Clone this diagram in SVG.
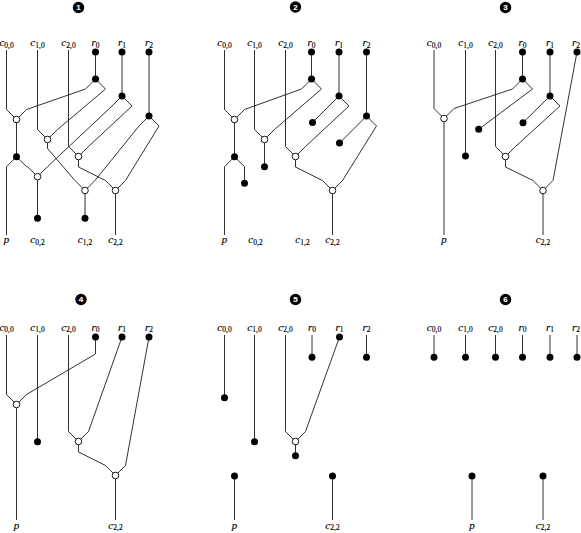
<svg xmlns="http://www.w3.org/2000/svg" width="581" height="533" viewBox="0 0 581 533">
<style>
.ln{fill:none;stroke:#1a1a1a;stroke-width:0.9;stroke-linejoin:miter}
.dot{fill:#000}
.wn{fill:#fff;stroke:#000;stroke-width:0.9}
.lbl{font-family:"Liberation Serif","DejaVu Serif",serif;font-size:11px;font-style:italic;fill:#000;stroke:#000;stroke-width:0.15}
.sub{font-size:7.5px;font-style:normal}
.badge{fill:#000}
.bnum{font-family:"Liberation Sans","DejaVu Sans",sans-serif;font-size:8px;font-weight:bold;fill:#fff;stroke:#fff;stroke-width:0.1}
</style>
<rect width="581" height="533" fill="#fff"/>

<!-- ================= PANEL 1 ================= -->
<g id="panel1">
<g id="p1-badge"><circle class="badge" cx="78.5" cy="7.5" r="5.7"/><text class="bnum" x="78.5" y="10.3" text-anchor="middle">1</text></g>
<g id="p1-connectors">
<polyline class="ln" points="6.5,50 6.5,109.5 16.5,119.5"/>
<polyline class="ln" points="95.5,52 95.5,79"/>
<polyline class="ln" points="95.5,79 85.5,89 26.5,109.5 16.5,119.5"/>
<polyline class="ln" points="95.5,79 105.5,89 57.5,129.5 47.5,139.5"/>
<polyline class="ln" points="37.5,50 37.5,129.5 47.5,139.5"/>
<polyline class="ln" points="122,52 122,96"/>
<polyline class="ln" points="122,96 112,106 47.5,166.7 37.5,176.7"/>
<polyline class="ln" points="122,96 132,106 88.5,146.5 78.5,156.5"/>
<polyline class="ln" points="68.5,50 68.5,146.5 78.5,156.5"/>
<polyline class="ln" points="149,52 149,116"/>
<polyline class="ln" points="149,116 139,126 95,180.5 85,190.5"/>
<polyline class="ln" points="149,116 159,126 125.5,180.5 115.5,190.5"/>
<polyline class="ln" points="16.5,119.5 16.5,156.7"/>
<polyline class="ln" points="16.5,156.7 6.5,166.7 6.5,235"/>
<polyline class="ln" points="16.5,156.7 26.5,166.7 27.5,166.7 37.5,176.7"/>
<polyline class="ln" points="37.5,176.7 37.5,218.3"/>
<polyline class="ln" points="47.5,139.5 47.5,148.5 75,180.5 85,190.5"/>
<polyline class="ln" points="78.5,156.5 78.5,167 105.5,180.5 115.5,190.5"/>
<polyline class="ln" points="85,190.5 85,218.3"/>
<polyline class="ln" points="115.5,190.5 115.5,235"/>
</g>
<g id="p1-c00"><text class="lbl" x="6.5" y="45.7" text-anchor="middle">c<tspan class="sub" dy="1.8">0,0</tspan></text></g>
<g id="p1-c10"><text class="lbl" x="37.5" y="45.7" text-anchor="middle">c<tspan class="sub" dy="1.8">1,0</tspan></text></g>
<g id="p1-c20"><text class="lbl" x="68.5" y="45.7" text-anchor="middle">c<tspan class="sub" dy="1.8">2,0</tspan></text></g>
<g id="p1-r0"><text class="lbl" x="95.5" y="45.7" text-anchor="middle">r<tspan class="sub" dy="1.8">0</tspan></text><circle class="dot" cx="95.5" cy="52" r="3.5"/></g>
<g id="p1-r1"><text class="lbl" x="122" y="45.7" text-anchor="middle">r<tspan class="sub" dy="1.8">1</tspan></text><circle class="dot" cx="122" cy="52" r="3.5"/></g>
<g id="p1-r2"><text class="lbl" x="149" y="45.7" text-anchor="middle">r<tspan class="sub" dy="1.8">2</tspan></text><circle class="dot" cx="149" cy="52" r="3.5"/></g>
<g id="p1-s0"><circle class="dot" cx="95.5" cy="79" r="3.5"/></g>
<g id="p1-s1"><circle class="dot" cx="122" cy="96" r="3.5"/></g>
<g id="p1-s2"><circle class="dot" cx="149" cy="116" r="3.5"/></g>
<g id="p1-w1"><circle class="wn" cx="16.5" cy="119.5" r="3.3"/></g>
<g id="p1-w2"><circle class="wn" cx="47.5" cy="139.5" r="3.3"/></g>
<g id="p1-w3"><circle class="wn" cx="78.5" cy="156.5" r="3.3"/></g>
<g id="p1-b1"><circle class="dot" cx="16.5" cy="156.7" r="3.5"/></g>
<g id="p1-w4"><circle class="wn" cx="37.5" cy="176.7" r="3.3"/></g>
<g id="p1-w5"><circle class="wn" cx="85" cy="190.5" r="3.3"/></g>
<g id="p1-w6"><circle class="wn" cx="115.5" cy="190.5" r="3.3"/></g>
<g id="p1-t1"><circle class="dot" cx="37.5" cy="218.3" r="3.5"/></g>
<g id="p1-t2"><circle class="dot" cx="85" cy="218.3" r="3.5"/></g>
<g id="p1-p"><text class="lbl" x="6.5" y="243" text-anchor="middle">p</text></g>
<g id="p1-c02"><text class="lbl" x="37.5" y="243" text-anchor="middle">c<tspan class="sub" dy="1.8">0,2</tspan></text></g>
<g id="p1-c12"><text class="lbl" x="85" y="243" text-anchor="middle">c<tspan class="sub" dy="1.8">1,2</tspan></text></g>
<g id="p1-c22"><text class="lbl" x="115.5" y="243" text-anchor="middle">c<tspan class="sub" dy="1.8">2,2</tspan></text></g>
</g>

<!-- ================= PANEL 2 ================= -->
<g id="panel2">
<g id="p2-badge"><circle class="badge" cx="295.5" cy="7" r="5.7"/><text class="bnum" x="295.5" y="9.8" text-anchor="middle">2</text></g>
<g id="p2-connectors">
<polyline class="ln" points="224.5,50 224.5,109.5 234.5,119.5"/>
<polyline class="ln" points="311.5,52 311.5,79"/>
<polyline class="ln" points="311.5,79 301.5,89 244.5,109.5 234.5,119.5"/>
<polyline class="ln" points="311.5,79 321.5,89 274.5,129.5 264.5,139.5"/>
<polyline class="ln" points="254.5,50 254.5,129.5 264.5,139.5"/>
<polyline class="ln" points="264.5,139.5 264.5,166.7"/>
<polyline class="ln" points="234.5,119.5 234.5,156.7"/>
<polyline class="ln" points="234.5,156.7 224.5,166.7 224.5,235"/>
<polyline class="ln" points="234.5,156.7 244.5,166.7 244.5,183.3"/>
<polyline class="ln" points="339,52 339,96"/>
<polyline class="ln" points="339,96 312.5,122.5"/>
<polyline class="ln" points="339,96 349,106 305.5,146.5 295.5,156.5"/>
<polyline class="ln" points="285.5,50 285.5,146.5 295.5,156.5"/>
<polyline class="ln" points="366.5,52 366.5,116"/>
<polyline class="ln" points="366.5,116 339.5,143"/>
<polyline class="ln" points="366.5,116 376.5,126 342.5,180.5 332.5,190.5"/>
<polyline class="ln" points="295.5,156.5 295.5,167 322.5,180.5 332.5,190.5"/>
<polyline class="ln" points="332.5,190.5 332.5,235"/>
</g>
<g id="p2-c00"><text class="lbl" x="224.5" y="45.7" text-anchor="middle">c<tspan class="sub" dy="1.8">0,0</tspan></text></g>
<g id="p2-c10"><text class="lbl" x="254.5" y="45.7" text-anchor="middle">c<tspan class="sub" dy="1.8">1,0</tspan></text></g>
<g id="p2-c20"><text class="lbl" x="285.5" y="45.7" text-anchor="middle">c<tspan class="sub" dy="1.8">2,0</tspan></text></g>
<g id="p2-r0"><text class="lbl" x="311.5" y="45.7" text-anchor="middle">r<tspan class="sub" dy="1.8">0</tspan></text><circle class="dot" cx="311.5" cy="52" r="3.5"/></g>
<g id="p2-r1"><text class="lbl" x="339" y="45.7" text-anchor="middle">r<tspan class="sub" dy="1.8">1</tspan></text><circle class="dot" cx="339" cy="52" r="3.5"/></g>
<g id="p2-r2"><text class="lbl" x="366.5" y="45.7" text-anchor="middle">r<tspan class="sub" dy="1.8">2</tspan></text><circle class="dot" cx="366.5" cy="52" r="3.5"/></g>
<g id="p2-s0"><circle class="dot" cx="311.5" cy="79" r="3.5"/></g>
<g id="p2-s1"><circle class="dot" cx="339" cy="96" r="3.5"/></g>
<g id="p2-s2"><circle class="dot" cx="366.5" cy="116" r="3.5"/></g>
<g id="p2-w1"><circle class="wn" cx="234.5" cy="119.5" r="3.3"/></g>
<g id="p2-w2"><circle class="wn" cx="264.5" cy="139.5" r="3.3"/></g>
<g id="p2-w3"><circle class="wn" cx="295.5" cy="156.5" r="3.3"/></g>
<g id="p2-b1"><circle class="dot" cx="234.5" cy="156.7" r="3.5"/></g>
<g id="p2-t0"><circle class="dot" cx="312.5" cy="122.5" r="3.5"/></g>
<g id="p2-t1"><circle class="dot" cx="339.5" cy="143" r="3.5"/></g>
<g id="p2-t2"><circle class="dot" cx="264.5" cy="166.7" r="3.5"/></g>
<g id="p2-t3"><circle class="dot" cx="244.5" cy="183.3" r="3.5"/></g>
<g id="p2-w6"><circle class="wn" cx="332.5" cy="190.5" r="3.3"/></g>
<g id="p2-p"><text class="lbl" x="224.5" y="243" text-anchor="middle">p</text></g>
<g id="p2-c02"><text class="lbl" x="255.5" y="243" text-anchor="middle">c<tspan class="sub" dy="1.8">0,2</tspan></text></g>
<g id="p2-c12"><text class="lbl" x="302.5" y="243" text-anchor="middle">c<tspan class="sub" dy="1.8">1,2</tspan></text></g>
<g id="p2-c22"><text class="lbl" x="332.5" y="243" text-anchor="middle">c<tspan class="sub" dy="1.8">2,2</tspan></text></g>
</g>

<!-- ================= PANEL 3 ================= -->
<g id="panel3">
<g id="p3-badge"><circle class="badge" cx="505.5" cy="7.5" r="5.7"/><text class="bnum" x="505.5" y="10.3" text-anchor="middle">3</text></g>
<g id="p3-connectors">
<polyline class="ln" points="434,50 434,108.5 444,118.5"/>
<polyline class="ln" points="522.5,52 522.5,79"/>
<polyline class="ln" points="522.5,79 512.5,89 454,108.5 444,118.5"/>
<polyline class="ln" points="522.5,79 532.5,89 478.7,129.3"/>
<polyline class="ln" points="465.5,50 465.5,156"/>
<polyline class="ln" points="444,118.5 444,235"/>
<polyline class="ln" points="550,52 550,96"/>
<polyline class="ln" points="550,96 523,122.7"/>
<polyline class="ln" points="550,96 560,106 515.5,146.5 505.5,156.5"/>
<polyline class="ln" points="495.5,50 495.5,146.5 505.5,156.5"/>
<polyline class="ln" points="577,52 553,180.5 543,190.5"/>
<polyline class="ln" points="505.5,156.5 505.5,167 533,180.5 543,190.5"/>
<polyline class="ln" points="543,190.5 543,235"/>
</g>
<g id="p3-c00"><text class="lbl" x="434" y="45.7" text-anchor="middle">c<tspan class="sub" dy="1.8">0,0</tspan></text></g>
<g id="p3-c10"><text class="lbl" x="465.5" y="45.7" text-anchor="middle">c<tspan class="sub" dy="1.8">1,0</tspan></text></g>
<g id="p3-c20"><text class="lbl" x="495.5" y="45.7" text-anchor="middle">c<tspan class="sub" dy="1.8">2,0</tspan></text></g>
<g id="p3-r0"><text class="lbl" x="522.5" y="45.7" text-anchor="middle">r<tspan class="sub" dy="1.8">0</tspan></text><circle class="dot" cx="522.5" cy="52" r="3.5"/></g>
<g id="p3-r1"><text class="lbl" x="550" y="45.7" text-anchor="middle">r<tspan class="sub" dy="1.8">1</tspan></text><circle class="dot" cx="550" cy="52" r="3.5"/></g>
<g id="p3-r2"><text class="lbl" x="576" y="45.7" text-anchor="middle">r<tspan class="sub" dy="1.8">2</tspan></text><circle class="dot" cx="577" cy="52" r="3.5"/></g>
<g id="p3-s0"><circle class="dot" cx="522.5" cy="79" r="3.5"/></g>
<g id="p3-s1"><circle class="dot" cx="550" cy="96" r="3.5"/></g>
<g id="p3-w1"><circle class="wn" cx="444" cy="118.5" r="3.3"/></g>
<g id="p3-t0"><circle class="dot" cx="478.7" cy="129.3" r="3.5"/></g>
<g id="p3-t1"><circle class="dot" cx="523" cy="122.7" r="3.5"/></g>
<g id="p3-t2"><circle class="dot" cx="465.5" cy="156" r="3.5"/></g>
<g id="p3-w3"><circle class="wn" cx="505.5" cy="156.5" r="3.3"/></g>
<g id="p3-w6"><circle class="wn" cx="543" cy="190.5" r="3.3"/></g>
<g id="p3-p"><text class="lbl" x="444" y="243" text-anchor="middle">p</text></g>
<g id="p3-c22"><text class="lbl" x="543" y="243" text-anchor="middle">c<tspan class="sub" dy="1.8">2,2</tspan></text></g>
</g>

<!-- ================= PANEL 4 ================= -->
<g id="panel4">
<g id="p4-badge"><circle class="badge" cx="81" cy="299.5" r="5.7"/><text class="bnum" x="81" y="302.3" text-anchor="middle">4</text></g>
<g id="p4-connectors">
<polyline class="ln" points="6.5,335 6.5,394.5 16.5,404.5"/>
<polyline class="ln" points="95.5,337 95.5,354 26.5,394.5 16.5,404.5"/>
<polyline class="ln" points="16.5,404.5 16.5,520"/>
<polyline class="ln" points="37.5,335 37.5,441.7"/>
<polyline class="ln" points="68.5,335 68.5,431.5 78.5,441.5"/>
<polyline class="ln" points="122,337 88.5,431.5 78.5,441.5"/>
<polyline class="ln" points="78.5,441.5 78.5,452 105.5,465.5 115.5,475.5"/>
<polyline class="ln" points="149,337 125.5,465.5 115.5,475.5"/>
<polyline class="ln" points="115.5,475.5 115.5,520"/>
</g>
<g id="p4-c00"><text class="lbl" x="6.5" y="330.5" text-anchor="middle">c<tspan class="sub" dy="1.8">0,0</tspan></text></g>
<g id="p4-c10"><text class="lbl" x="37.5" y="330.5" text-anchor="middle">c<tspan class="sub" dy="1.8">1,0</tspan></text></g>
<g id="p4-c20"><text class="lbl" x="68.5" y="330.5" text-anchor="middle">c<tspan class="sub" dy="1.8">2,0</tspan></text></g>
<g id="p4-r0"><text class="lbl" x="95.5" y="330.5" text-anchor="middle">r<tspan class="sub" dy="1.8">0</tspan></text><circle class="dot" cx="95.5" cy="337" r="3.5"/></g>
<g id="p4-r1"><text class="lbl" x="122" y="330.5" text-anchor="middle">r<tspan class="sub" dy="1.8">1</tspan></text><circle class="dot" cx="122" cy="337" r="3.5"/></g>
<g id="p4-r2"><text class="lbl" x="149" y="330.5" text-anchor="middle">r<tspan class="sub" dy="1.8">2</tspan></text><circle class="dot" cx="149" cy="337" r="3.5"/></g>
<g id="p4-w1"><circle class="wn" cx="16.5" cy="404.5" r="3.3"/></g>
<g id="p4-t1"><circle class="dot" cx="37.5" cy="441.7" r="3.5"/></g>
<g id="p4-w3"><circle class="wn" cx="78.5" cy="441.5" r="3.3"/></g>
<g id="p4-w6"><circle class="wn" cx="115.5" cy="475.5" r="3.3"/></g>
<g id="p4-p"><text class="lbl" x="16.5" y="528.5" text-anchor="middle">p</text></g>
<g id="p4-c22"><text class="lbl" x="115.5" y="528.5" text-anchor="middle">c<tspan class="sub" dy="1.8">2,2</tspan></text></g>
</g>

<!-- ================= PANEL 5 ================= -->
<g id="panel5">
<g id="p5-badge"><circle class="badge" cx="295.5" cy="299.5" r="5.7"/><text class="bnum" x="295.5" y="302.3" text-anchor="middle">5</text></g>
<g id="p5-connectors">
<polyline class="ln" points="224.5,335 224.5,397.7"/>
<polyline class="ln" points="254.5,335 254.5,441.7"/>
<polyline class="ln" points="285.5,335 285.5,431.5 295.5,441.5"/>
<polyline class="ln" points="339.5,337 305.5,431.5 295.5,441.5"/>
<polyline class="ln" points="295.5,441.5 295.5,455.7"/>
<polyline class="ln" points="312,335 312,357.3"/>
<polyline class="ln" points="366.5,335 366.5,357.3"/>
<polyline class="ln" points="234.5,476 234.5,520"/>
<polyline class="ln" points="332.5,476 332.5,520"/>
</g>
<g id="p5-c00"><text class="lbl" x="224.5" y="330.5" text-anchor="middle">c<tspan class="sub" dy="1.8">0,0</tspan></text></g>
<g id="p5-c10"><text class="lbl" x="254.5" y="330.5" text-anchor="middle">c<tspan class="sub" dy="1.8">1,0</tspan></text></g>
<g id="p5-c20"><text class="lbl" x="285.5" y="330.5" text-anchor="middle">c<tspan class="sub" dy="1.8">2,0</tspan></text></g>
<g id="p5-r0"><text class="lbl" x="312" y="330.5" text-anchor="middle">r<tspan class="sub" dy="1.8">0</tspan></text><circle class="dot" cx="312" cy="357.3" r="3.5"/></g>
<g id="p5-r1"><text class="lbl" x="339.5" y="330.5" text-anchor="middle">r<tspan class="sub" dy="1.8">1</tspan></text><circle class="dot" cx="339.5" cy="337" r="3.5"/></g>
<g id="p5-r2"><text class="lbl" x="366.5" y="330.5" text-anchor="middle">r<tspan class="sub" dy="1.8">2</tspan></text><circle class="dot" cx="366.5" cy="357.3" r="3.5"/></g>
<g id="p5-t0"><circle class="dot" cx="224.5" cy="397.7" r="3.5"/></g>
<g id="p5-t1"><circle class="dot" cx="254.5" cy="441.7" r="3.5"/></g>
<g id="p5-w3"><circle class="wn" cx="295.5" cy="441.5" r="3.3"/></g>
<g id="p5-t2"><circle class="dot" cx="295.5" cy="455.7" r="3.5"/></g>
<g id="p5-p"><circle class="dot" cx="234.5" cy="476" r="3.5"/><text class="lbl" x="234.5" y="528.5" text-anchor="middle">p</text></g>
<g id="p5-c22"><circle class="dot" cx="332.5" cy="476" r="3.5"/><text class="lbl" x="332.5" y="528.5" text-anchor="middle">c<tspan class="sub" dy="1.8">2,2</tspan></text></g>
</g>

<!-- ================= PANEL 6 ================= -->
<g id="panel6">
<g id="p6-badge"><circle class="badge" cx="505.5" cy="299.5" r="5.7"/><text class="bnum" x="505.5" y="302.3" text-anchor="middle">6</text></g>
<g id="p6-connectors">
<polyline class="ln" points="434,335 434,357.3"/>
<polyline class="ln" points="465.5,335 465.5,357.3"/>
<polyline class="ln" points="495.5,335 495.5,357.3"/>
<polyline class="ln" points="522.5,335 522.5,357.3"/>
<polyline class="ln" points="550,335 550,357.3"/>
<polyline class="ln" points="577,335 577,357.3"/>
<polyline class="ln" points="472,476 472,520"/>
<polyline class="ln" points="543,476 543,520"/>
</g>
<g id="p6-c00"><text class="lbl" x="434" y="330.5" text-anchor="middle">c<tspan class="sub" dy="1.8">0,0</tspan></text><circle class="dot" cx="434" cy="357.3" r="3.5"/></g>
<g id="p6-c10"><text class="lbl" x="465.5" y="330.5" text-anchor="middle">c<tspan class="sub" dy="1.8">1,0</tspan></text><circle class="dot" cx="465.5" cy="357.3" r="3.5"/></g>
<g id="p6-c20"><text class="lbl" x="495.5" y="330.5" text-anchor="middle">c<tspan class="sub" dy="1.8">2,0</tspan></text><circle class="dot" cx="495.5" cy="357.3" r="3.5"/></g>
<g id="p6-r0"><text class="lbl" x="522.5" y="330.5" text-anchor="middle">r<tspan class="sub" dy="1.8">0</tspan></text><circle class="dot" cx="522.5" cy="357.3" r="3.5"/></g>
<g id="p6-r1"><text class="lbl" x="550" y="330.5" text-anchor="middle">r<tspan class="sub" dy="1.8">1</tspan></text><circle class="dot" cx="550" cy="357.3" r="3.5"/></g>
<g id="p6-r2"><text class="lbl" x="576" y="330.5" text-anchor="middle">r<tspan class="sub" dy="1.8">2</tspan></text><circle class="dot" cx="577" cy="357.3" r="3.5"/></g>
<g id="p6-p"><circle class="dot" cx="472" cy="476" r="3.5"/><text class="lbl" x="472" y="528.5" text-anchor="middle">p</text></g>
<g id="p6-c22"><circle class="dot" cx="543" cy="476" r="3.5"/><text class="lbl" x="543" y="528.5" text-anchor="middle">c<tspan class="sub" dy="1.8">2,2</tspan></text></g>
</g>
</svg>
